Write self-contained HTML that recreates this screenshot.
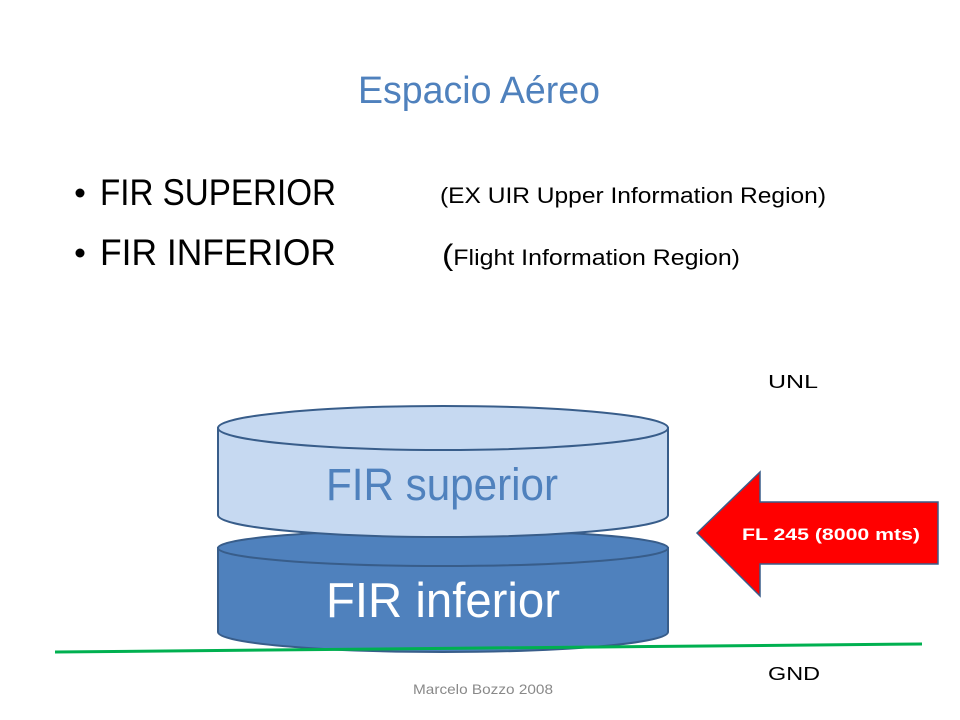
<!DOCTYPE html>
<html><head><meta charset="utf-8"><style>html,body{margin:0;padding:0;background:#fff}svg{display:block}</style></head>
<body>
<svg width="960" height="720" viewBox="0 0 960 720" xmlns="http://www.w3.org/2000/svg" font-family="Liberation Sans, sans-serif">
<text x="358" y="103" font-size="38" fill="#4f81bd" textLength="242" lengthAdjust="spacingAndGlyphs">Espacio Aéreo</text>
<circle cx="80" cy="193" r="4.5" fill="#000"/>
<circle cx="80" cy="253" r="4.5" fill="#000"/>
<text x="100" y="205" font-size="37" textLength="236" lengthAdjust="spacingAndGlyphs">FIR SUPERIOR</text>
<text x="440" y="203" font-size="22" textLength="386" lengthAdjust="spacingAndGlyphs">(EX UIR  Upper Information Region)</text>
<text x="100" y="265" font-size="37" textLength="236" lengthAdjust="spacingAndGlyphs">FIR  INFERIOR</text>
<text x="442" y="265" font-size="22" textLength="298" lengthAdjust="spacingAndGlyphs"><tspan font-size="30">(</tspan>Flight Information Region)</text>
<text x="768" y="388" font-size="18" textLength="50" lengthAdjust="spacingAndGlyphs">UNL</text>
<path d="M218,548 L218,632 A225,20 0 0 0 668,632 L668,548 Z" fill="#4f81bd" stroke="#385d8a" stroke-width="2"/>
<ellipse cx="443" cy="548" rx="225" ry="18" fill="#4f81bd" stroke="#385d8a" stroke-width="2"/>
<path d="M218,428 L218,515 A225,22 0 0 0 668,515 L668,428 Z" fill="#c6d9f1" stroke="#385d8a" stroke-width="2"/>
<ellipse cx="443" cy="428" rx="225" ry="22" fill="#c6d9f1" stroke="#385d8a" stroke-width="2"/>
<text x="326" y="500" font-size="45" fill="#4f81bd" textLength="232" lengthAdjust="spacingAndGlyphs">FIR superior</text>
<text x="326" y="617" font-size="49" fill="#fff" textLength="234" lengthAdjust="spacingAndGlyphs">FIR inferior</text>
<path d="M697,533 L760,472 L760,502 L938,502 L938,564 L760,564 L760,596 Z" fill="#ff0000" stroke="#385d8a" stroke-width="1.5"/>
<text x="742" y="540" font-size="17" font-weight="bold" fill="#fff" textLength="178" lengthAdjust="spacingAndGlyphs">FL 245  (8000 mts)</text>
<line x1="55" y1="652" x2="922" y2="644" stroke="#00b050" stroke-width="3"/>
<text x="768" y="680" font-size="18" textLength="52" lengthAdjust="spacingAndGlyphs">GND</text>
<text x="413" y="694" font-size="14" fill="#898989" textLength="140" lengthAdjust="spacingAndGlyphs">Marcelo Bozzo 2008</text>
</svg>
</body></html>
